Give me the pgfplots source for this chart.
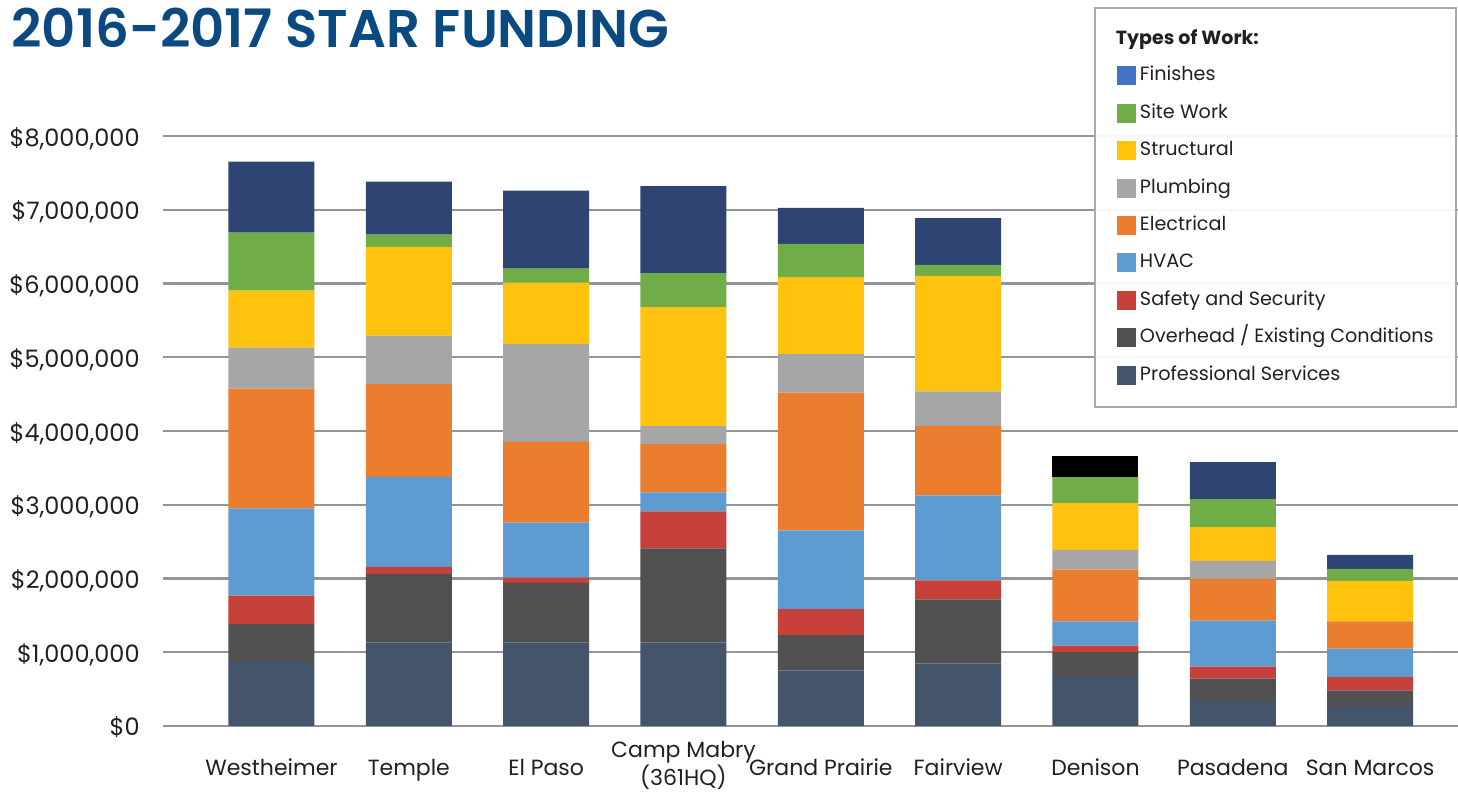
\documentclass[border=0pt]{standalone}
\usepackage{pgfplots}
\pgfplotsset{compat=1.18}
\usepackage{pgfplotstable}
\usepackage{fontspec}
\setmainfont{Poppins}
\newfontfamily\titlefont{Poppins SemiBold}
\definecolor{cFin}{HTML}{2E4472}
\definecolor{cFinL}{HTML}{4472C4}
\definecolor{cSite}{HTML}{70AD47}
\definecolor{cStr}{HTML}{FFC20E}
\definecolor{cPlu}{HTML}{A5A6A5}
\definecolor{cEle}{HTML}{EB7D2F}
\definecolor{cHVAC}{HTML}{5E9BD1}
\definecolor{cSaf}{HTML}{C5413A}
\definecolor{cOve}{HTML}{505050}
\definecolor{cPro}{HTML}{44546A}
\definecolor{cTitle}{HTML}{0B4A80}
\definecolor{cGrid}{HTML}{939598}
\definecolor{cLeg}{HTML}{A7A9AC}
\definecolor{cTxt}{HTML}{231F20}

\pgfplotstableread{
x Pro Ove Saf HVAC Ele Plu Str Site Fin Blk
0 870000 515000 383000 1184000 1624000 556000 771000 786000 965000 0
1 1133000 929000 97000 1220000 1261000 654000 1204000 164000 719000 0
2 1133000 807000 71000 746000 1097000 1327000 832000 189000 1057000 0
3 1135000 1272000 504000 256000 656000 242000 1613000 464000 1179000 0
4 755000 478000 351000 1070000 1865000 523000 1046000 449000 488000 0
5 849000 868000 256000 1155000 937000 474000 1564000 148000 636000 0
6 662000 338000 90000 329000 703000 265000 636000 351000 0 284000
7 342000 302000 162000 622000 567000 244000 459000 379000 500000 0
8 261000 221000 180000 388000 369000 0 549000 163000 189000 0
}\data

\pgfplotsset{sq/.style={legend image code/.code={\fill[#1, fill opacity=1] (0pt,-4.25pt) rectangle (8.5pt,4.25pt);}}}

\begin{document}
\begin{tikzpicture}[x=1pt,y=1pt]
\path[use as bounding box] (0,0) rectangle (729,396.5);
\node[anchor=base west, inner sep=0pt, font=\titlefont\fontsize{26.5}{30}\selectfont, text=cTitle] at (5.5,372.5) {2016-2017 STAR FUNDING};
\begin{axis}[
  at={(81.5pt,33.5pt)}, anchor=south west,
  scale only axis, width=647.5pt, height=295pt,
  ybar stacked, bar width=43pt,
  enlargelimits=false,
  xmin=-0.79, xmax=8.64, ymin=0, ymax=8000000,
  xtick={0,1,2,3,4,5,6,7,8},
  xticklabels={Westheimer, Temple, El Paso, {\raisebox{-5pt}{\begin{tabular}[b]{@{}c@{}}Camp Mabry\\(361HQ)\end{tabular}}}, Grand Prairie, Fairview, Denison, Pasadena, San Marcos},
  ytick={0,1000000,2000000,3000000,4000000,5000000,6000000,7000000,8000000},
  yticklabels={\$0,{\$1,000,000},{\$2,000,000},{\$3,000,000},{\$4,000,000},{\$5,000,000},{\$6,000,000},{\$7,000,000},{\$8,000,000}},
  scaled y ticks=false,
  ymajorgrids, grid style={cGrid, line width=1.1pt},
  axis line style={draw=none}, major tick length=0pt,
  xticklabel style={anchor=base, yshift=-24.6pt, inner sep=0pt, text=cTxt, font=\fontsize{11}{11.5}\selectfont},
  yticklabel style={anchor=base east, inner sep=0pt, xshift=-11.5pt, yshift=-5pt, text=cTxt, font=\fontsize{12}{13}\selectfont},
  legend cell align=left,
  legend style={at={(0.7189,1.2186)}, anchor=north west, draw=cLeg, line width=1pt,
    fill=white, fill opacity=0.93, text opacity=1, draw opacity=1,
    inner xsep=11pt, inner ysep=11pt, row sep=9.2pt, text=cTxt,
    font=\fontsize{9.6}{12}\selectfont,
    nodes={inner sep=0pt, text height=7pt, text depth=2pt},
    /tikz/every odd column/.append style={column sep=2pt}},
]
\addlegendimage{empty legend}
\addlegendentry{\hspace*{-12pt}\textbf{\fontsize{9.5}{12}\selectfont Types of Work:}}
\addlegendimage{sq=cFinL}\addlegendentry{Finishes}
\addlegendimage{sq=cSite}\addlegendentry{Site Work}
\addlegendimage{sq=cStr}\addlegendentry{Structural}
\addlegendimage{sq=cPlu}\addlegendentry{Plumbing}
\addlegendimage{sq=cEle}\addlegendentry{Electrical}
\addlegendimage{sq=cHVAC}\addlegendentry{HVAC}
\addlegendimage{sq=cSaf}\addlegendentry{Safety and Security}
\addlegendimage{sq=cOve}\addlegendentry{Overhead / Existing Conditions}
\addlegendimage{sq=cPro}\addlegendentry{Professional Services}

\addplot[forget plot, fill=cPro, draw=none] table[x=x,y=Pro]{\data};
\addplot[forget plot, fill=cOve, draw=none] table[x=x,y=Ove]{\data};
\addplot[forget plot, fill=cSaf, draw=none] table[x=x,y=Saf]{\data};
\addplot[forget plot, fill=cHVAC, draw=none] table[x=x,y=HVAC]{\data};
\addplot[forget plot, fill=cEle, draw=none] table[x=x,y=Ele]{\data};
\addplot[forget plot, fill=cPlu, draw=none] table[x=x,y=Plu]{\data};
\addplot[forget plot, fill=cStr, draw=none] table[x=x,y=Str]{\data};
\addplot[forget plot, fill=cSite, draw=none] table[x=x,y=Site]{\data};
\addplot[forget plot, fill=cFin, draw=none] table[x=x,y=Fin]{\data};
\addplot[forget plot, fill=black, draw=none] table[x=x,y=Blk]{\data};
\end{axis}
\end{tikzpicture}
\end{document}
